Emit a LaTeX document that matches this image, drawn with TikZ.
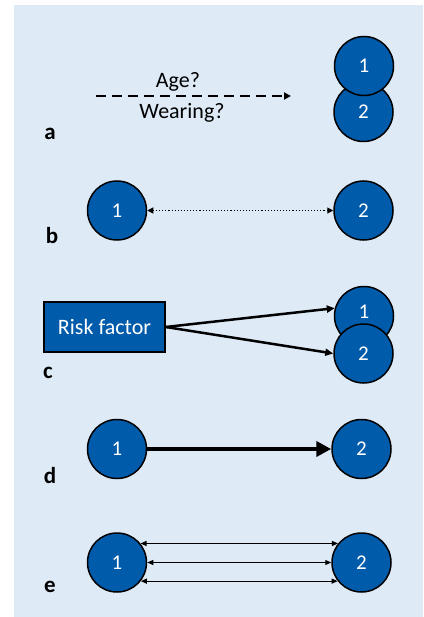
\documentclass[tikz,border=0pt]{standalone}
\usepackage{fontspec}
\setmainfont{Carlito}
\usetikzlibrary{arrows.meta}
\definecolor{bgblue}{RGB}{222,235,247}
\definecolor{nodeblue}{RGB}{0,91,170}
\begin{document}
\begin{tikzpicture}[x=1pt,y=-1pt,
  circ/.style={circle,draw=black,line width=1.5pt,fill=nodeblue,text=white,minimum size=59pt,inner sep=0pt,font=\fontsize{21}{24}\selectfont},
  lbl/.style={font=\fontsize{23}{26}\selectfont\bfseries,anchor=center},
  txt/.style={font=\fontsize{22}{25}\selectfont,anchor=center},
  thinarr/.style={line width=1.1pt,{Triangle[length=6pt,width=5pt]}-{Triangle[length=6pt,width=5pt]}}
]
\useasboundingbox (0,0) rectangle (423,617);
\fill[bgblue] (14,5) rectangle (423,617);

% panel a
\node[circ] (a2) at (363.5,112) {\raisebox{-4pt}{2}};
\node[circ] (a1) at (364,66) {1};
\coordinate (as) at (96,96);
\coordinate (ae) at (291,96);
\draw[line width=2.5pt,dash pattern=on 10pt off 6pt,-{Triangle[length=7pt,width=7pt]}] (as) -- (ae);
\node[txt] (age) at (178,82) {Age?};
\node[txt] (wear) at (182,113) {Wearing?};
\node[lbl] (la) at (50,134) {a};

% panel b
\node[circ] (b1) at (117,210.5) {1};
\node[circ] (b2) at (363.5,210.5) {2};
\draw[line width=1.1pt,dotted,{Triangle[length=6pt,width=6pt]}-{Triangle[length=6pt,width=6pt]}] (b1) -- (b2);
\node[lbl] (lb) at (52,236) {b};

% panel c
\node[draw=black,line width=1.5pt,fill=nodeblue,text=white,minimum width=121pt,minimum height=50pt,inner sep=0pt,font=\fontsize{22}{25}\selectfont] (rf) at (104.5,327) {Risk factor};
\node[circ] (c1) at (364,316) {\raisebox{8pt}{1}};
\node[circ] (c2) at (363.5,353.5) {\raisebox{-2pt}{2}};
\draw[line width=2.5pt,-{Triangle[length=8pt,width=7pt]}] (rf.east) -- (c1.165);
\draw[line width=2.5pt,-{Triangle[length=8pt,width=7pt]}] (rf.east) -- (c2.west);
\node[lbl] (lc) at (48,373) {c};

% panel d
\node[circ] (d1) at (117,449) {1};
\node[circ] (d2) at (361.5,449) {2};
\draw[line width=4.5pt,-{Triangle[length=15pt,width=15pt]}] (d1) -- (d2);
\node[lbl] (ld) at (50,476) {d};

% panel e
\node[circ] (e1) at (117,562.5) {1};
\node[circ] (e2) at (361.5,562.5) {2};
\draw[thinarr] (e1.39) -- (e2.141);
\draw[thinarr] (e1) -- (e2);
\draw[thinarr] (e1.-38) -- (e2.-142);
\node[lbl] (le) at (50,587) {e};
\end{tikzpicture}
\end{document}
